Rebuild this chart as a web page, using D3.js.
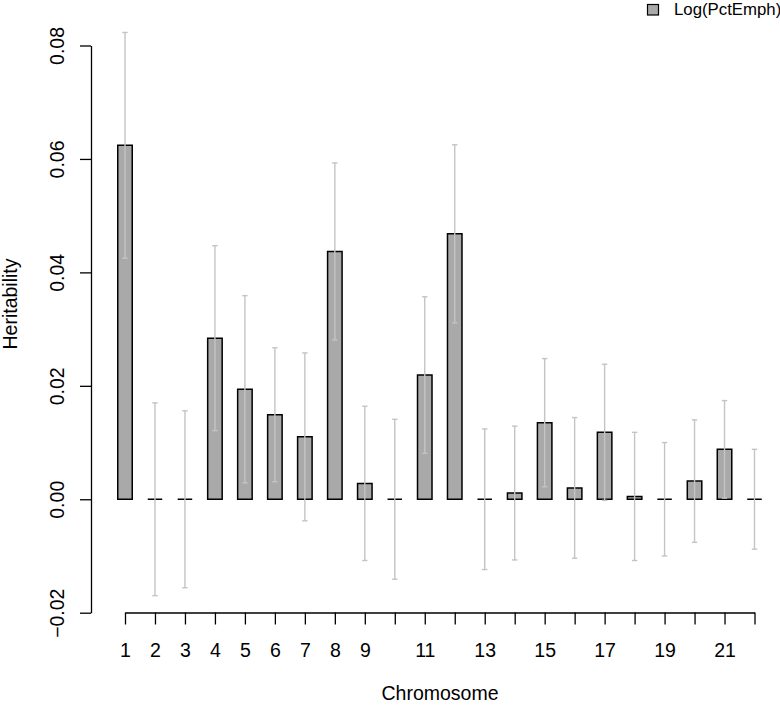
<!DOCTYPE html>
<html>
<head>
<meta charset="utf-8">
<script src="https://cdn.jsdelivr.net/npm/d3@7"></script>
<style>
  html, body { margin: 0; padding: 0; background: #fff; }
  svg { display: block; }
  text { font-family: "Liberation Sans", Arial, Helvetica, sans-serif; fill: #000; }
</style>
</head>
<body>
<svg id="chart" width="780" height="705"></svg>
<script>
const chromosomes = [1,2,3,4,5,6,7,8,9,10,11,12,13,14,15,16,17,18,19,20,21,22];
const heritability = [0.0624, 0, 0, 0.0284, 0.0194, 0.0149, 0.0110, 0.0437, 0.0028, 0, 0.0219, 0.0468,
                      0, 0.0011, 0.0135, 0.0020, 0.0118, 0.0005, 0, 0.0032, 0.0088, 0];
const stdError = [0.0199, 0.0170, 0.0156, 0.0163, 0.0165, 0.0118, 0.0148, 0.0156, 0.0136, 0.0141, 0.0138, 0.0157,
                  0.0124, 0.0118, 0.0113, 0.0124, 0.0120, 0.0113, 0.0100, 0.0108, 0.0086, 0.0088];
const xTickLabels = ["1","2","3","4","5","6","7","8","9","","11","","13","","15","","17","","19","","21",""];
const yTicks = [-0.02, 0.00, 0.02, 0.04, 0.06, 0.08];
const seriesName = "Log(PctEmph)";
const yLabel = "Heritability";
const xLabel = "Chromosome";

const svg = d3.select("#chart");
const x = d3.scalePoint().domain(chromosomes).range([125, 754.5]);
const y = d3.scaleLinear().domain([-0.02, 0.08]).range([612.7, 45.5]);
const barW = 14.5;
const fill = "#a9a9a9";
const errColor = "#c4c4c4";
const fs = 19.5;

// Y axis
const yAxis = svg.append("g").attr("transform", "translate(91,0)")
  .call(d3.axisLeft(y).tickValues(yTicks).tickFormat(d3.format(".2f")).tickSize(11).tickSizeOuter(0));
yAxis.select(".domain").attr("stroke", "#000").attr("stroke-width", 1.3);
yAxis.selectAll(".tick line").attr("stroke", "#000").attr("stroke-width", 1.3);
yAxis.selectAll(".tick text")
  .attr("font-size", fs)
  .attr("font-family", "Liberation Sans, Arial, sans-serif")
  .attr("text-anchor", "middle")
  .attr("x", 0).attr("dy", 0)
  .attr("transform", "translate(-27.5,0) rotate(-90)")
  .text(d => d3.format(".2f")(d).replace("-", "\u2212"));

// X axis
const xAxis = svg.append("g").attr("transform", "translate(0,612.5)")
  .call(d3.axisBottom(x).tickFormat((d, i) => xTickLabels[i]).tickSize(12).tickSizeOuter(0));
xAxis.select(".domain").attr("stroke", "#000").attr("stroke-width", 1.3);
xAxis.selectAll(".tick line").attr("stroke", "#000").attr("stroke-width", 1.3);
xAxis.selectAll(".tick text")
  .attr("font-size", fs)
  .attr("font-family", "Liberation Sans, Arial, sans-serif")
  .attr("y", 44.5).attr("dy", 0);

// Bars (zero-height bars show as a black line)
const data = chromosomes.map((c, i) => ({c, v: heritability[i], e: stdError[i]}));
svg.append("g").selectAll("path.bar").data(data).join("path")
  .attr("class", "bar")
  .attr("d", d => {
    const x0 = x(d.c) - barW / 2, x1 = x(d.c) + barW / 2;
    const y0 = y(0), y1 = y(d.v);
    return `M${x0},${y0}V${y1}H${x1}V${y0}Z`;
  })
  .attr("fill", fill)
  .attr("stroke", "#000")
  .attr("stroke-width", 1.5);

// Error bars
const eg = svg.append("g").attr("stroke", errColor).attr("stroke-width", 1.4).attr("fill", "none");
eg.selectAll("line.v").data(data).join("line")
  .attr("x1", d => x(d.c)).attr("x2", d => x(d.c))
  .attr("y1", d => y(d.v - d.e)).attr("y2", d => y(d.v + d.e));
eg.selectAll("line.top").data(data).join("line")
  .attr("x1", d => x(d.c) - 2.7).attr("x2", d => x(d.c) + 2.7)
  .attr("y1", d => y(d.v + d.e)).attr("y2", d => y(d.v + d.e));
eg.selectAll("line.bot").data(data).join("line")
  .attr("x1", d => x(d.c) - 2.7).attr("x2", d => x(d.c) + 2.7)
  .attr("y1", d => y(d.v - d.e)).attr("y2", d => y(d.v - d.e));

// Axis titles
svg.append("text").attr("x", 440).attr("y", 700).attr("text-anchor", "middle")
  .attr("font-size", fs).text(xLabel);
svg.append("text").attr("transform", "translate(17,304) rotate(-90)").attr("text-anchor", "middle")
  .attr("font-size", fs).text(yLabel);

// Legend
svg.append("rect").attr("x", 647.5).attr("y", 4.5).attr("width", 11).attr("height", 10.5)
  .attr("fill", fill).attr("stroke", "#000").attr("stroke-width", 1.2);
svg.append("text").attr("x", 674).attr("y", 15.3).attr("font-size", 16.8).text(seriesName);
</script>
</body>
</html>
